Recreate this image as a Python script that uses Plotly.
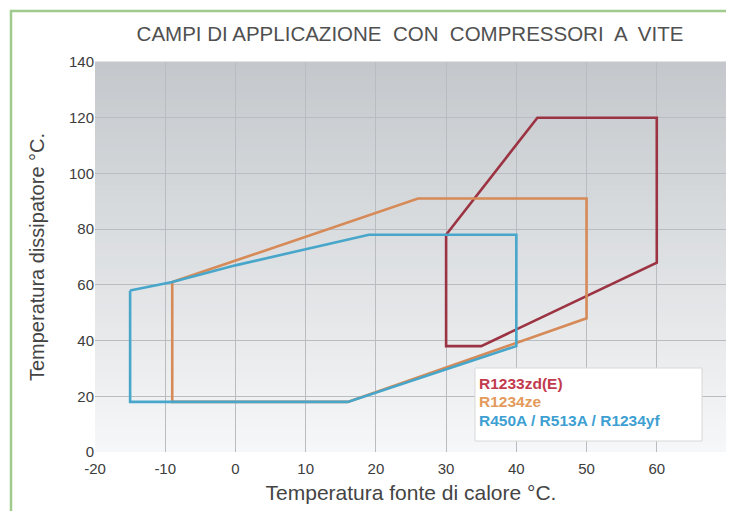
import plotly.graph_objects as go

# ---- data ----
series_names = ["R1233zd(E)", "R1234ze", "R450A / R513A / R1234yf"]

r1233_x = [30, 43, 60, 60, 35, 30, 30]
r1233_y = [78, 120, 120, 68, 38, 38, 78]

r1234ze_x = [-9, 26, 50, 50, 16, -9, -9]
r1234ze_y = [61, 91, 91, 48, 18, 18, 61]

r450_x = [-15, -9, 0, 19, 40, 40, 16, -15, -15]
r450_y = [58, 61, 67, 78, 78, 38, 18, 18, 58]

line_colors = ["#9b3343", "#d68a57", "#47a6c9"]
text_colors = ["#c23a4e", "#e39a5a", "#3d9fd2"]

x_ticks = [-20, -10, 0, 10, 20, 30, 40, 50, 60, 70]
y_ticks = [0, 20, 40, 60, 80, 100, 120, 140]

title_text = "CAMPI DI APPLICAZIONE  CON  COMPRESSORI  A  VITE"
x_title = "Temperatura fonte di calore °C."
y_title = "Temperatura dissipatore °C."

FONT = "Liberation Sans, Arial, sans-serif"

# page is offset by the 8px body margin
OFF = 8
W, H = 734 - OFF, 511 - OFF
PL, PR, PT, PB = 95, 727, 62, 452   # plot area in page pixels


def px_x(p):
    return (p - PL) / (PR - PL)


def px_y(p):
    return (PB - p) / (PB - PT)


fig = go.Figure()
for xs, ys, name, col in zip([r1233_x, r1234ze_x, r450_x],
                             [r1233_y, r1234ze_y, r450_y],
                             series_names, line_colors):
    fig.add_trace(go.Scatter(x=xs, y=ys, mode="lines", name=name,
                             line=dict(color=col, width=2.6),
                             showlegend=False, hoverinfo="x+y+name"))

# gradient background of the plot area (bands)
shapes = []
n = 60
top = (196, 200, 204)
bot = (246, 247, 248)
for i in range(n):
    t = i / (n - 1)
    c = tuple(int(round(top[k] + (bot[k] - top[k]) * t)) for k in range(3))
    shapes.append(dict(type="rect", xref="x domain", yref="y domain",
                       x0=0, x1=1, y0=1 - (i + 1) / n, y1=1 - i / n + 0.001,
                       fillcolor="rgb(%d,%d,%d)" % c, line=dict(width=0),
                       layer="below"))
# legend box
shapes.append(dict(type="rect", xref="paper", yref="paper",
                   x0=px_x(475), x1=px_x(702), y0=px_y(441), y1=px_y(368),
                   fillcolor="white", line=dict(color="#d8d8d8", width=1),
                   layer="above"))
# green outer frame
shapes.append(dict(type="rect", xref="paper", yref="paper",
                   x0=px_x(11), x1=px_x(760), y0=px_y(530), y1=px_y(11),
                   fillcolor="rgba(0,0,0,0)", line=dict(color="#9fcb8c", width=2.5),
                   layer="above"))

annotations = []
for i, (name, col) in enumerate(zip(series_names, text_colors)):
    annotations.append(dict(text="<b>%s</b>" % name, x=px_x(477),
                            y=px_y(383 + 18.5 * i),
                            xref="paper", yref="paper", xanchor="left",
                            yanchor="middle", showarrow=False,
                            font=dict(family=FONT, size=15.5, color=col)))

fig.update_layout(
    width=W, height=H,
    margin=dict(l=PL - OFF, r=W - (PR - OFF), t=PT - OFF, b=H - (PB - OFF)),
    paper_bgcolor="white", plot_bgcolor="#e0e3e6",
    title=dict(text=title_text, x=(410 - OFF) / W, xanchor="center",
               y=1 - (34 - OFF) / H, yanchor="middle",
               font=dict(family=FONT, size=20.5, color="#505050")),
    shapes=shapes, annotations=annotations,
    font=dict(family=FONT, color="#444"),
)
fig.update_xaxes(range=[-20, 70], tickvals=x_ticks, ticktext=[str(v) for v in x_ticks],
                 showgrid=True, gridcolor="#b9bdc1", gridwidth=1, zeroline=False,
                 showline=False, ticks="", tickfont=dict(size=15, color="#3c3c3c"),
                 ticklabelstandoff=6,
                 title=dict(text=x_title, font=dict(size=21, color="#444"), standoff=9))
fig.update_yaxes(range=[0, 140], tickvals=y_ticks, showgrid=True,
                 gridcolor="#b9bdc1", gridwidth=1, zeroline=False, showline=False,
                 ticks="", tickfont=dict(size=15, color="#3c3c3c"),
                 title=dict(text=y_title, font=dict(size=20, color="#444"), standoff=18))

fig.write_html("out.html")
